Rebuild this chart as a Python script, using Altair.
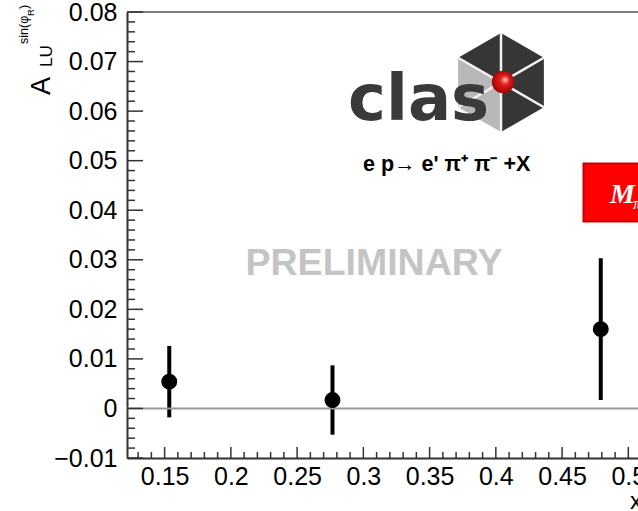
import altair as alt
import pandas as pd

# Beam-spin asymmetry A_LU^{sin(phi_R)} versus x
x_bin = [0.1535, 0.2767, 0.4792]
asym = [0.0054, 0.0017, 0.0160]
asym_err = [0.0072, 0.0070, 0.0143]

# Axis tick positions (major labelled, minor unlabelled)
x_major = [0.15, 0.2, 0.25, 0.3, 0.35, 0.4, 0.45, 0.5]
x_minor = [0.13, 0.14, 0.16, 0.17, 0.18, 0.19, 0.21, 0.22, 0.23, 0.24,
           0.26, 0.27, 0.28, 0.29, 0.31, 0.32, 0.33, 0.34, 0.36, 0.37,
           0.38, 0.39, 0.41, 0.42, 0.43, 0.44, 0.46, 0.47, 0.48, 0.49]
y_major = [-0.01, 0.0, 0.01, 0.02, 0.03, 0.04, 0.05, 0.06, 0.07, 0.08]
y_minor = [-0.008, -0.006, -0.004, -0.002, 0.002, 0.004, 0.006, 0.008,
           0.012, 0.014, 0.016, 0.018, 0.022, 0.024, 0.026, 0.028,
           0.032, 0.034, 0.036, 0.038, 0.042, 0.044, 0.046, 0.048,
           0.052, 0.054, 0.056, 0.058, 0.062, 0.064, 0.066, 0.068,
           0.072, 0.074, 0.076, 0.078]

W, H = 511, 446
FONT = "Liberation Sans"
AXIS_COLOR = "#333333"

points = pd.DataFrame({"x": x_bin, "a": asym, "e": asym_err})
points["lo"] = points["a"] - points["e"]
points["hi"] = points["a"] + points["e"]

xs = alt.Scale(domain=[0.1216, 0.5073], nice=False, zero=False)
ys = alt.Scale(domain=[-0.01, 0.08], nice=False, zero=False)

x_axis = alt.Axis(values=x_major, format="~g", title=None, tickSize=0, grid=False,
                  labelPadding=6)
y_axis = alt.Axis(values=y_major, format="~g", title=None, tickSize=0, grid=False,
                  labelPadding=10)

one = pd.DataFrame({"k": [0]})

err_bars = alt.Chart(points).mark_rule(color="black", strokeWidth=4).encode(
    x=alt.X("x:Q", scale=xs, axis=x_axis),
    y=alt.Y("lo:Q", scale=ys, axis=y_axis),
    y2="hi:Q")

markers = alt.Chart(points).mark_point(
    shape="circle", filled=True, color="black", opacity=1, size=254).encode(
    x=alt.X("x:Q", scale=xs),
    y=alt.Y("a:Q", scale=ys))

# zero reference line
zero_line = alt.Chart(pd.DataFrame({"a": [0.0]})).mark_rule(
    color="#999999", strokeWidth=2).encode(y=alt.Y("a:Q", scale=ys))

# top frame edge
top_edge = alt.Chart(one).mark_rule(color="#555555", strokeWidth=1.5).encode(
    x=alt.value(0), x2=alt.value(W), y=alt.value(0))

# inward ticks
def x_ticks(vals, length):
    return alt.Chart(pd.DataFrame({"x": vals})).mark_rule(
        color=AXIS_COLOR, strokeWidth=1.5).encode(
        x=alt.X("x:Q", scale=xs),
        y=alt.value(H), y2=alt.value(H - length))

def y_ticks(vals, length):
    return alt.Chart(pd.DataFrame({"a": vals})).mark_rule(
        color=AXIS_COLOR, strokeWidth=1.5).encode(
        y=alt.Y("a:Q", scale=ys),
        x=alt.value(0), x2=alt.value(length))

# CLAS logo: hexagon with light face, spokes and red ball
HEX_DARK = "M0,0 L-0.866,-0.5 L0,-1 L0.866,-0.5 L0.866,0.5 L0,1 Z"
HEX_LIGHT = "M0,0 L0,1 L-0.866,0.5 L-0.866,-0.5 Z"
HEX_SPOKES = "M0,-1 L0,1 M-0.866,-0.5 L0.866,0.5 M-0.866,0.5 L0.866,-0.5"
hx, hy, hsize = 374, 70.5, 9800

hex_dark = alt.Chart(one).mark_point(shape=HEX_DARK, filled=True, color="#363636",
                                     opacity=1, size=hsize, strokeWidth=0).encode(
    x=alt.value(hx), y=alt.value(hy))
hex_light = alt.Chart(one).mark_point(shape=HEX_LIGHT, filled=True, color="#b8b8b8",
                                      opacity=1, size=hsize, strokeWidth=0).encode(
    x=alt.value(hx), y=alt.value(hy))
hex_spokes = alt.Chart(one).mark_point(shape=HEX_SPOKES, filled=False, stroke="#f2f2f2",
                                       opacity=1, size=hsize, strokeWidth=2.5).encode(
    x=alt.value(hx), y=alt.value(hy))
clas_text = alt.Chart(one).mark_text(
    text="clas", font="DejaVu Sans", fontWeight="bold", fontSize=64,
    color="#3a3a3a", align="left", baseline="alphabetic").encode(
    x=alt.value(221), y=alt.value(108))
ball = alt.Chart(one).mark_point(
    shape="circle", filled=True, opacity=1, size=500, strokeWidth=0,
    fill=alt.Gradient(
        gradient="radial",
        stops=[alt.GradientStop(offset=0, color="#ffd9c9"),
               alt.GradientStop(offset=0.35, color="#e52222"),
               alt.GradientStop(offset=1, color="#9a0000")],
        x1=0.62, y1=0.38, r1=0, x2=0.5, y2=0.5, r2=0.55)).encode(
    x=alt.value(376), y=alt.value(70))

reaction = alt.Chart(one).mark_text(
    text="e p\u2192 e' \u03c0\u207a \u03c0\u207b +X", font=FONT, fontWeight="bold",
    fontSize=21.5, color="black", align="left", baseline="middle").encode(
    x=alt.value(236), y=alt.value(153))

prelim = alt.Chart(one).mark_text(
    text="PRELIMINARY", font=FONT, fontWeight="bold", fontSize=37.5,
    color="#c4c4c4", align="center", baseline="middle").encode(
    x=alt.value(247), y=alt.value(252))

# red kinematic-bin label box
red_box = alt.Chart(one).mark_rect(fill="#ff0000", stroke="#c80000", strokeWidth=2).encode(
    x=alt.value(456.5), x2=alt.value(530), y=alt.value(151.5), y2=alt.value(209.5))
red_text = alt.Chart(one).mark_text(
    text="M", font="Liberation Serif", fontStyle="italic", fontWeight="bold",
    fontSize=28, color="white", align="left", baseline="alphabetic").encode(
    x=alt.value(483), y=alt.value(191))
red_sub = alt.Chart(one).mark_text(
    text="\u03c0\u03c0", font="Liberation Serif", fontStyle="italic", fontWeight="bold",
    fontSize=16, color="white", align="left", baseline="alphabetic").encode(
    x=alt.value(506), y=alt.value(197))

# rotated y title A_LU^{sin(phi_R)}
def vtext(txt, size, x, y):
    return alt.Chart(one).mark_text(
        text=txt, font=FONT, fontSize=size, color="black", angle=270,
        align="left", baseline="alphabetic").encode(x=alt.value(x), y=alt.value(y))

y_title = [
    vtext("A", 27, -77, 83),
    vtext("LU", 17, -75, 55),
    vtext("sin(\u03c6", 12.5, -99, 32),
    vtext("R", 9.5, -93, 4),
    vtext(")", 12.5, -99, -3),
]

x_title = alt.Chart(one).mark_text(
    text="x", font=FONT, fontSize=24, color="black", align="center",
    baseline="middle").encode(x=alt.value(509), y=alt.value(490))

layers = [err_bars, zero_line, top_edge,
          x_ticks(x_major, 11), x_ticks(x_minor, 6),
          y_ticks(y_major, 16), y_ticks(y_minor, 8),
          markers,
          hex_dark, hex_light, hex_spokes, clas_text, ball,
          reaction, prelim, red_box, red_text, red_sub, x_title] + y_title

chart = alt.layer(*layers).properties(
    width=W, height=H,
    padding={"left": 127, "top": 12, "right": 0, "bottom": 53},
    autosize=alt.AutoSizeParams(type="none"),
    background="white",
).configure_view(stroke=None).configure_axis(
    labelFont=FONT, labelFontSize=25, labelColor="black",
    labelFlush=False, labelOverlap=False,
    domainColor=AXIS_COLOR, domainWidth=2,
)

chart.save("out.html", embed_options={"renderer": "svg", "actions": False})
